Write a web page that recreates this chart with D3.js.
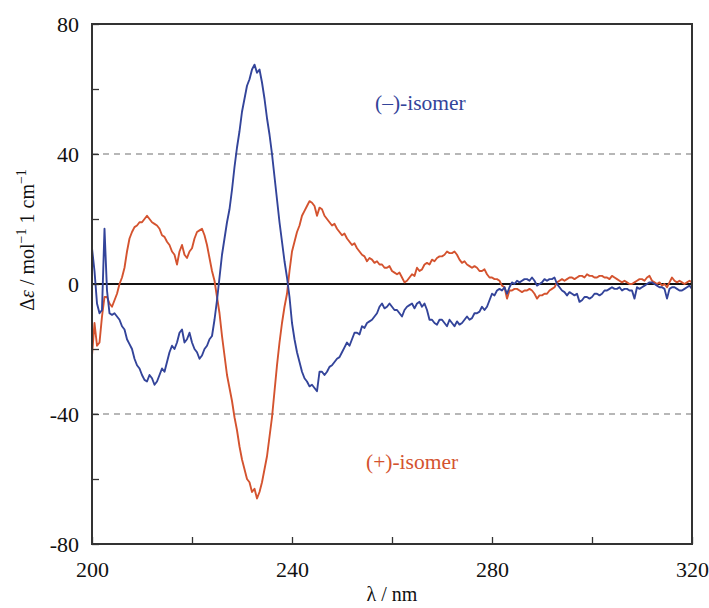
<!DOCTYPE html>
<html>
<head>
<meta charset="utf-8">
<script src="https://cdn.jsdelivr.net/npm/d3@7"></script>
<style>
  body { margin: 0; background: #fff; }
  svg text { font-family: "Liberation Serif", "Times New Roman", Times, "DejaVu Serif", serif; }
</style>
</head>
<body>
<div id="chart"></div>
<script>
// wavelength (nm) of each reading
const wavelength = [
  200, 200.5, 201, 201.5, 202, 202.5, 203, 203.5, 204, 204.5,
  205, 205.5, 206, 206.5, 207, 207.5, 208, 208.5, 209, 209.5,
  210, 210.5, 211, 211.5, 212, 212.5, 213, 213.5, 214, 214.5,
  215, 215.5, 216, 216.5, 217, 217.5, 218, 218.5, 219, 219.5,
  220, 220.5, 221, 221.5, 222, 222.5, 223, 223.5, 224, 224.5,
  225, 225.5, 226, 226.5, 227, 227.5, 228, 228.5, 229, 229.5,
  230, 230.5, 231, 231.5, 232, 232.5, 233, 233.5, 234, 234.5,
  235, 235.5, 236, 236.5, 237, 237.5, 238, 238.5, 239, 239.5,
  240, 240.5, 241, 241.5, 242, 242.5, 243, 243.5, 244, 244.5,
  245, 245.5, 246, 246.5, 247, 247.5, 248, 248.5, 249, 249.5,
  250, 250.5, 251, 251.5, 252, 252.5, 253, 253.5, 254, 254.5,
  255, 255.5, 256, 256.5, 257, 257.5, 258, 258.5, 259, 259.5,
  260, 260.5, 261, 261.5, 262, 262.5, 263, 263.5, 264, 264.5,
  265, 265.5, 266, 266.5, 267, 267.5, 268, 268.5, 269, 269.5,
  270, 270.5, 271, 271.5, 272, 272.5, 273, 273.5, 274, 274.5,
  275, 275.5, 276, 276.5, 277, 277.5, 278, 278.5, 279, 279.5,
  280, 280.5, 281, 281.5, 282, 282.5, 283, 283.5, 284, 284.5,
  285, 285.5, 286, 286.5, 287, 287.5, 288, 288.5, 289, 289.5,
  290, 290.5, 291, 291.5, 292, 292.5, 293, 293.5, 294, 294.5,
  295, 295.5, 296, 296.5, 297, 297.5, 298, 298.5, 299, 299.5,
  300, 300.5, 301, 301.5, 302, 302.5, 303, 303.5, 304, 304.5,
  305, 305.5, 306, 306.5, 307, 307.5, 308, 308.5, 309, 309.5,
  310, 310.5, 311, 311.5, 312, 312.5, 313, 313.5, 314, 314.5,
  315, 315.5, 316, 316.5, 317, 317.5, 318, 318.5, 319, 319.5,
  320];

// (-)-isomer, delta epsilon
const minusIsomer = [
  11, 4, -6, -9, -8, 17, -2, -9, -9.5, -9,
  -10, -11, -13, -14, -17, -18.5, -20, -23, -25, -26,
  -28, -29.5, -30, -28, -29, -31, -30, -28, -26, -27,
  -24, -21, -19, -20, -18, -15, -14, -18, -17, -15,
  -18, -20, -21, -23, -22, -20, -19, -17, -16, -11,
  -5, 2, 9, 14, 19, 23, 29, 36, 42, 47,
  53, 57, 61, 63, 66, 67.5, 65, 66, 62, 57,
  51, 46, 40, 33, 26, 19, 13, 7, 2, -4,
  -12, -17, -21, -24, -27, -29, -30, -31.5, -31, -32,
  -33, -27, -27, -28, -27, -25.5, -25, -24, -23, -22.5,
  -21, -19.5, -18, -19, -17, -15, -15, -15.5, -13, -13.5,
  -12, -11.5, -11, -10, -9, -7, -6, -7.5, -7, -6,
  -7, -8, -8, -9, -10, -8, -7, -6.5, -6, -7.5,
  -6, -5.5, -7, -6, -8, -11, -11, -12, -12.5, -11,
  -11, -12, -13, -11, -12, -13, -11.5, -12.5, -12, -11,
  -10, -11, -10.5, -9, -9, -8.5, -7, -8, -7, -5,
  -3, -3.5, -2, -1.5, -2, -1, -3, -1, 0.5, 0,
  1, 0.5, 1, 1.5, 1.5, 1, 2, 1, -0.5, 0,
  0.5, 1.5, 1, 1.5, 1.5, 2, 0, -1, -2, -2.5,
  -3.5, -2.5, -3, -3.5, -3, -5.5, -5, -4, -4, -4.5,
  -4, -3, -3, -3.5, -3, -2, -2, -1.5, -1, -1.5,
  -1.5, -1, -2, -1.5, -1.5, -2, -2, -4.5, -1, -1.5,
  -1, -0.5, 0, 0.5, 0.5, 0, -0.5, -1, -1, -1.5,
  -4.5, -1.5, -1, -1, -1.5, -2, -2, -1.5, -1, -0.5,
  -1.5];

// (+)-isomer, delta epsilon
const plusIsomer = [
  -22, -12, -19, -18, -10, -4, -4, -6, -7, -5,
  -3, 0, 2, 5, 10, 14, 16, 17.5, 18, 19,
  19, 20, 21, 20, 19, 18.5, 18, 17, 15, 14.5,
  13, 12, 10, 9, 6, 10, 12, 9, 8, 10,
  11, 14, 16, 16.5, 17, 15, 12, 8, 4, 1,
  -4, -9, -16, -22, -28, -32, -36, -41, -45, -50,
  -54, -57, -60, -61, -64, -63, -66, -64, -61, -57,
  -53, -47, -41, -33, -25, -18, -12, -7, -3, 4,
  10, 13, 16, 18, 21, 22.5, 24, 25.5, 25, 24,
  21, 23.5, 23, 21, 20, 19, 18, 18.5, 17, 16,
  15, 15.5, 14, 13, 12, 12.5, 11, 10, 9, 8.5,
  7, 8, 7.5, 6.5, 7, 6, 6, 5, 5, 5.5,
  4, 3.5, 3, 3.5, 2, 0.5, 1, 2, 3, 2.5,
  5, 4, 4.5, 6, 6.5, 6, 7.5, 7, 8, 8.5,
  8.5, 9, 10, 9.5, 9.5, 10, 9, 7.5, 6.5, 7,
  6, 5.5, 5, 5.5, 5, 4, 4, 4.5, 3, 2,
  2, 1.5, 1.5, 1, -0.5, -1, -4.5, -2, -2, -1.5,
  -1.5, -2, -2.5, -2, -2, -1.5, -2, -3, -4.5, -3.5,
  -3.5, -3, -3, -2, -1.5, -1, 0.5, 1, 1.5, 1,
  1.5, 2, 2, 1.5, 2, 2.5, 2.5, 2, 3, 2.5,
  2.5, 2, 2, 2.5, 2.5, 2, 2, 1.5, 2.5, 2,
  1.5, 1, 0.5, 1, 0.5, 0, 0, 0.5, 1, 1.5,
  1.5, 1, 2, 2.5, 1, 0.5, 0, 0.5, -0.5, 0,
  -1, 0.5, 2, 1, 0.5, 1, 0.5, 0, 0.5, 1,
  0.5];

const xTicks = [200, 220, 240, 260, 280, 300, 320];
const xTickLabels = [200, 240, 280, 320];
const yTicks = [-80, -60, -40, -20, 0, 20, 40, 60, 80];
const yTickLabels = [-80, -40, 0, 40, 80];
const dashedLevels = [40, -40];

const serif = "'Liberation Serif', 'Times New Roman', Times, 'DejaVu Serif', serif";
const width = 709, height = 608;
const margin = {top: 24, right: 17, bottom: 64, left: 92};
const plotW = width - margin.left - margin.right;
const plotH = height - margin.top - margin.bottom;

const svg = d3.select("#chart").append("svg")
    .attr("width", width)
    .attr("height", height);

const g = svg.append("g")
    .attr("transform", `translate(${margin.left},${margin.top})`);

const x = d3.scaleLinear().domain([200, 320]).range([0, plotW]);
const y = d3.scaleLinear().domain([-80, 80]).range([plotH, 0]);

// dashed reference lines
g.selectAll(".dash")
    .data(dashedLevels)
    .enter()
    .append("line")
    .attr("x1", 0)
    .attr("x2", plotW)
    .attr("y1", d => y(d))
    .attr("y2", d => y(d))
    .attr("stroke", "#a0a0a0")
    .attr("stroke-width", 1.3)
    .attr("stroke-dasharray", "6,5");

// zero line
g.append("line")
    .attr("x1", 0)
    .attr("x2", plotW)
    .attr("y1", y(0))
    .attr("y2", y(0))
    .attr("stroke", "#111")
    .attr("stroke-width", 2);

const line = d3.line()
    .x((d, i) => x(wavelength[i]))
    .y(d => y(d));

g.append("path")
    .datum(plusIsomer)
    .attr("fill", "none")
    .attr("stroke", "#d4532f")
    .attr("stroke-width", 1.9)
    .attr("stroke-linejoin", "round")
    .attr("d", line);

g.append("path")
    .datum(minusIsomer)
    .attr("fill", "none")
    .attr("stroke", "#33449a")
    .attr("stroke-width", 1.9)
    .attr("stroke-linejoin", "round")
    .attr("d", line);

// axes with inward ticks
const xAxis = d3.axisBottom(x).tickValues(xTicks).tickSize(-7)
    .tickFormat(d => xTickLabels.includes(d) ? d : "").tickPadding(17);
const yAxis = d3.axisLeft(y).tickValues(yTicks).tickSize(-7)
    .tickFormat(d => yTickLabels.includes(d) ? d : "").tickPadding(13);

const gx = g.append("g")
    .attr("transform", `translate(0,${plotH})`)
    .call(xAxis);
const gy = g.append("g").call(yAxis);

[gx, gy].forEach(a => {
    a.attr("font-family", serif);
    a.select(".domain").remove();
    a.selectAll(".tick line").attr("stroke", "#333").attr("stroke-width", 1.3);
    a.selectAll(".tick text")
        .attr("fill", "#111")
        .style("font-family", serif)
        .style("font-size", "22px");
});

// frame
g.append("rect")
    .attr("width", plotW)
    .attr("height", plotH)
    .attr("fill", "none")
    .attr("stroke", "#333")
    .attr("stroke-width", 2);

// curve labels
g.append("text")
    .attr("x", x(256.6))
    .attr("y", y(53.5))
    .attr("fill", "#33449a")
    .style("font-family", serif)
    .style("font-size", "21.5px")
    .text("(\u2013)-isomer");

g.append("text")
    .attr("x", x(254.8))
    .attr("y", y(-57))
    .attr("fill", "#d4532f")
    .style("font-family", serif)
    .style("font-size", "21.5px")
    .text("(+)-isomer");

// axis titles
const xt = svg.append("text")
    .attr("x", margin.left + plotW / 2)
    .attr("y", 601)
    .attr("text-anchor", "middle")
    .style("font-family", serif)
    .style("font-size", "20px")
    .attr("fill", "#111");
xt.append("tspan").text("\u03bb / nm");

const yt = svg.append("text")
    .attr("transform", `translate(34,${margin.top + y(0) - 44}) rotate(-90)`)
    .attr("text-anchor", "middle")
    .style("font-family", serif)
    .style("font-size", "20px")
    .attr("fill", "#111");
yt.append("tspan").text("\u0394");
yt.append("tspan").style("font-style", "italic").text("\u03b5");
yt.append("tspan").text(" / mol");
yt.append("tspan").attr("dy", -8).style("font-size", "14px").text("\u22121");
yt.append("tspan").attr("dy", 8).text(" 1 cm");
yt.append("tspan").attr("dy", -8).style("font-size", "14px").text("\u22121");
</script>
</body>
</html>
